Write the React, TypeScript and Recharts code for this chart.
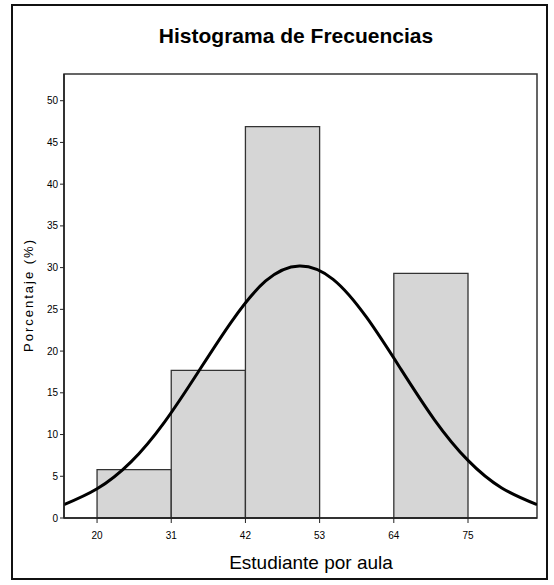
import { ComposedChart, Line, XAxis, YAxis, ReferenceArea } from 'recharts';

// histogram bins (student count per classroom) and their percentage
const binEdges = [20, 31, 42, 53, 64, 75];
const binPercents = [5.8, 17.7, 46.9, 0, 29.3];

// fitted normal curve
const curveX = [15.1, 20, 25, 30, 35, 40, 45, 50, 55, 60, 65, 70, 75, 80, 85.23];
const curveY = [1.6, 3.5, 6.7, 11.5, 17.5, 23.6, 28.4, 30.2, 28.6, 24.0, 17.9, 11.8, 6.9, 3.6, 1.6];

const yTicks = [0, 5, 10, 15, 20, 25, 30, 35, 40, 45, 50];
const xDomain: [number, number] = [15.1, 85.23];
const yDomain: [number, number] = [0, 53.2];

const curve = curveX.map((x, i) => ({ x, y: curveY[i] }));

const font = '"Liberation Sans", Arial, sans-serif';
const tickStyle = { fontSize: 10, fill: '#000', fontFamily: font };

export default function App() {
  return (
    <div
      style={{
        position: 'absolute',
        left: 0,
        top: 0,
        width: 554,
        height: 585,
        background: '#fff',
      }}
    >
      <div
        style={{
          position: 'absolute',
          left: 11,
          top: 4,
          width: 537,
          height: 576,
          border: '2px solid #111',
          boxSizing: 'border-box',
        }}
      />
      <div style={{ position: 'absolute', left: 0, top: 0 }}>
        <ComposedChart
          width={554}
          height={585}
          data={curve}
          margin={{ top: 74, right: 17, bottom: 37, left: 20 }}
          style={{ fontFamily: font }}
        >
          <XAxis
            dataKey="x"
            type="number"
            domain={xDomain}
            allowDataOverflow
            ticks={binEdges}
            interval={0}
            height={30}
            tick={tickStyle}
            tickSize={5}
            tickMargin={9}
            axisLine={{ stroke: '#222', strokeWidth: 1.5 }}
            tickLine={{ stroke: '#222' }}
          />
          <YAxis
            type="number"
            domain={yDomain}
            allowDataOverflow
            ticks={yTicks}
            interval={0}
            width={44}
            tick={tickStyle}
            tickSize={4}
            tickMargin={2}
            axisLine={{ stroke: '#222', strokeWidth: 1.5 }}
            tickLine={{ stroke: '#222' }}
          />
          {binPercents.map((p, i) =>
            p > 0 ? (
              <ReferenceArea
                key={i}
                x1={binEdges[i]}
                x2={binEdges[i + 1]}
                y1={0}
                y2={p}
                fill="#d6d6d6"
                fillOpacity={1}
                stroke="#333"
                strokeWidth={1.3}
              />
            ) : null
          )}
          <ReferenceArea
            x1={xDomain[0]}
            x2={xDomain[1]}
            y1={yDomain[0]}
            y2={yDomain[1]}
            fill="none"
            stroke="#333"
            strokeWidth={1.5}
          />
          <Line
            dataKey="y"
            type="natural"
            stroke="#000"
            strokeWidth={3}
            dot={false}
            isAnimationActive={false}
          />
        </ComposedChart>
      </div>
      <svg width={554} height={585} style={{ position: 'absolute', left: 0, top: 0, pointerEvents: 'none' }}>
        <text x={296} y={43} textAnchor="middle" fontFamily={font} fontWeight="bold" fontSize={21} fill="#000">
          Histograma de Frecuencias
        </text>
        <text x={311} y={569} textAnchor="middle" fontFamily={font} fontSize={19} fill="#000">
          Estudiante por aula
        </text>
        <text
          transform="translate(33,295) rotate(-90)"
          textAnchor="middle"
          fontFamily={font}
          fontSize={13}
          letterSpacing={2}
          fill="#000"
        >
          Porcentaje (%)
        </text>
      </svg>
    </div>
  );
}
